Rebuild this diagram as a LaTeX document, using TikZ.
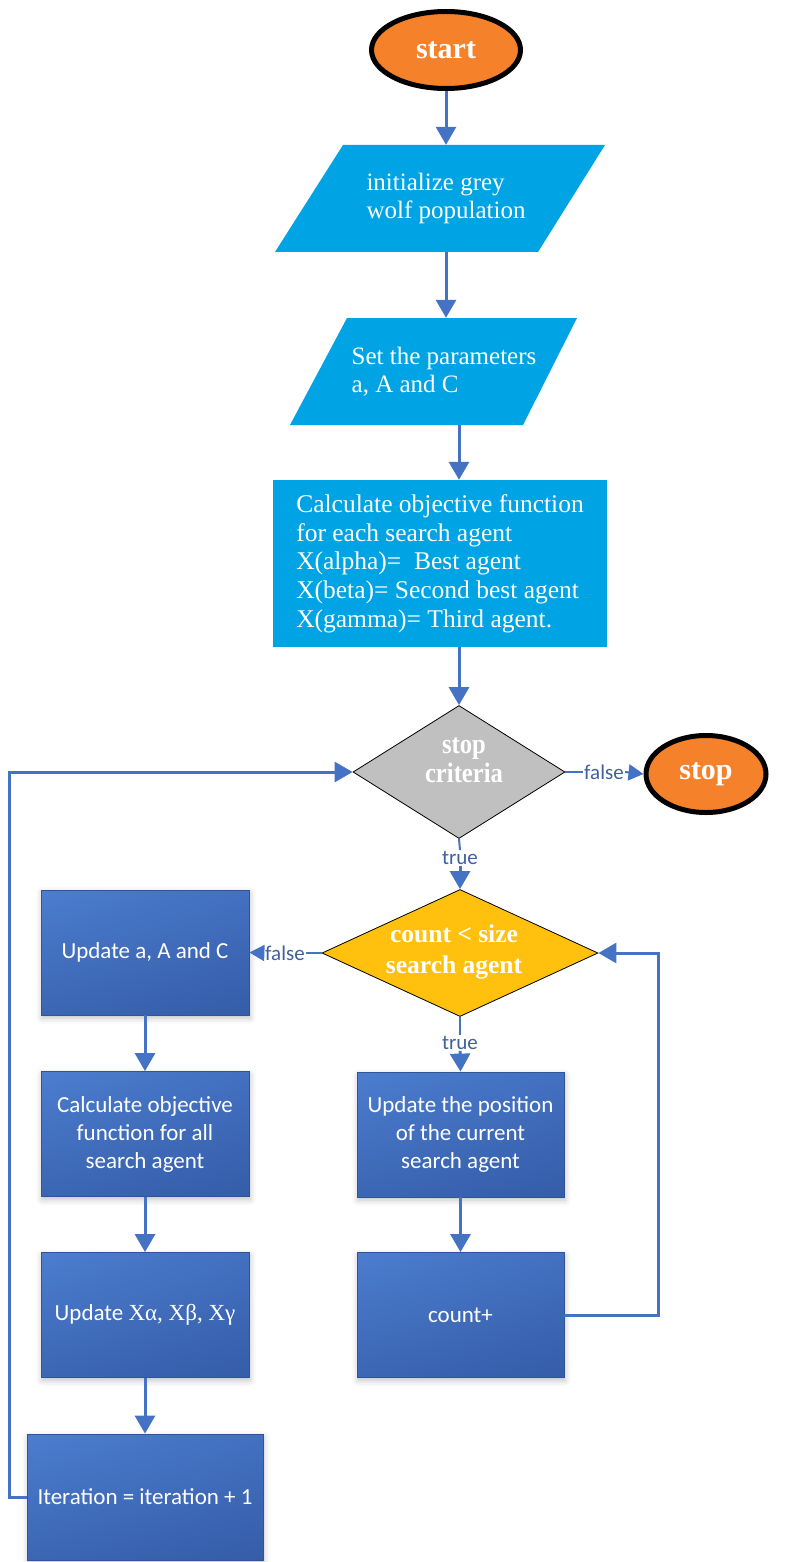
\documentclass[tikz,border=0pt]{standalone}
\usepackage{fontspec}
\setmainfont{Liberation Serif}
\newfontfamily\calib{Carlito}
\usetikzlibrary{shapes.geometric,arrows.meta,shadows.blur,shadings}

\definecolor{termorange}{HTML}{F5822A}
\definecolor{iocyan}{HTML}{00A3E4}
\definecolor{critgrey}{HTML}{C0C0C0}
\definecolor{countgold}{HTML}{FFC10E}
\definecolor{flowblue}{HTML}{4472C4}
\definecolor{lblblue}{HTML}{3F5F9F}
\definecolor{boxedge}{HTML}{2F5597}
\definecolor{boxul}{HTML}{4C7DCF}
\definecolor{boxur}{HTML}{4370C1}
\definecolor{boxll}{HTML}{3B66B3}
\definecolor{boxlr}{HTML}{355DA8}

\begin{document}
\begin{tikzpicture}[x=1pt,y=-1pt,
  conn/.style={draw=flowblue,line width=3pt,-{Triangle[length=18pt,width=20pt]}},
  sconn/.style={draw=flowblue,line width=2pt,-{Triangle[length=15pt,width=16pt]}},
  plainline/.style={draw=flowblue,line width=2pt},
  terminal/.style={ellipse,fill=termorange,draw=black,line width=5pt,
    minimum width=120pt,minimum height=77pt,inner sep=0pt,text=white,
    font=\fontsize{30}{32}\selectfont\bfseries},
  iotext/.style={align=left,text=white,inner sep=0pt,
    font=\fontsize{25}{28.5}\selectfont},
  decision/.style={diamond,draw=black,line width=0.8pt,inner sep=0pt},
  procbox/.style={rectangle,draw=boxedge,line width=0.8pt,
    upper left=boxul,upper right=boxur,lower left=boxll,lower right=boxlr,
    minimum width=208pt,minimum height=125pt,inner sep=0pt,
    text=white,align=center,font=\calib\fontsize{23}{28}\selectfont,
    blur shadow={shadow xshift=1pt,shadow yshift=-3pt,shadow blur radius=6pt,shadow opacity=25}},
  lbl/.style={text=lblblue,inner sep=1pt,font=\calib\fontsize{21}{24}\selectfont}
]
\useasboundingbox (0,0) rectangle (794,1562);

% start terminal
\node[terminal,minimum width=149pt] (start) at (446,50) {start};

% input parallelograms
\fill[iocyan] (343,145) -- (605,145) -- (538,252) -- (275,252) -- cycle;
\node[iotext,minimum height=107pt] (p1) at (446,198.5) {initialize grey\\wolf population};
\fill[iocyan] (347,318) -- (577,318) -- (523,425) -- (290,425) -- cycle;
\node[iotext,minimum height=107pt] (p2) at (444,371.5) {Set the parameters\\a, A and C};

% objective function box
\node[rectangle,fill=iocyan,minimum width=334pt,minimum height=167pt,inner sep=0pt,
  align=left,text=white,font=\fontsize{25.5}{28.7}\selectfont] (calc) at (440,563.5)
  {Calculate objective function\\for each search agent\\X(alpha)=\ \ Best agent\\X(beta)= Second best agent\\X(gamma)= Third agent.};

% stop criteria decision
\node[decision,fill=critgrey,minimum width=212pt,minimum height=133pt] (d1) at (459,772) {};
\node[text=white,inner sep=0pt,font=\fontsize{28}{29}\selectfont\bfseries] (d1t) at (464,762)
  {\scalebox{0.88}[1]{\begin{tabular}{@{}c@{}}stop\\criteria\end{tabular}}};

% stop terminal
\node[terminal] (stop) at (706,774) {stop};

% count decision
\node[decision,fill=countgold,minimum width=276pt,minimum height=127pt] (d2) at (460,953) {};
\node[text=white,inner sep=0pt,align=center,font=\fontsize{25.5}{31}\selectfont\bfseries] (d2t) at (454,952)
  {count < size\\search agent};

% left column
\node[procbox] (ua) at (145,952.5) {Update a, A and C};
\node[procbox] (co) at (145,1134) {Calculate objective\\function for all\\search agent};
\node[procbox] (ux) at (145,1315) {Update {\rmfamily Xα, Xβ, Xγ}};
\node[procbox,minimum width=236pt,minimum height=126pt] (it) at (145,1497) {Iteration = iteration + 1};

% right column
\node[procbox,minimum width=207pt] (upd) at (460.5,1134.5) {Update the position\\of the current\\search agent};
\node[procbox,minimum width=207pt] (cnt) at (460.5,1315) {count+};

% labels
\node[lbl] (f1) at (604,772) {false};
\node[lbl] (t1) at (460,858) {true};
\node[lbl] (f2) at (285,953) {false};
\node[lbl] (t2) at (460,1043) {true};

% main flow
\draw[conn] (start.south) -- (start.south |- p1.north);
\draw[conn] (p1.south) -- (p1.south |- p2.north);
\draw[conn] (d1 |- p2.south) -- (d1 |- calc.north);
\draw[conn] (d1 |- calc.south) -- (d1.north);

% stop criteria branches
\draw[plainline] (d1.east) -- (f1.west);
\draw[sconn] (f1.east) -- (stop.west);
\draw[plainline] (d1.south) -- (t1.north);
\draw[conn] (t1.south) -- (d2.north);

% count decision branches
\draw[plainline] (d2.west) -- (f2.east);
\draw[sconn] (f2.west) -- (ua.east);
\draw[plainline] (d2.south) -- (t2.north);
\draw[conn] (t2.south) -- (upd.north);

% left column flow
\draw[conn] (ua.south) -- (co.north);
\draw[conn] (co.south) -- (ux.north);
\draw[conn] (ux.south) -- (it.north);

% right column flow
\draw[conn] (upd.south) -- (cnt.north);

% loops
\draw[conn] (it.west) -- ++(-17,0) |- (d1.west);
\draw[conn] (cnt.east) -- ++(94,0) |- (d2.east);
\end{tikzpicture}
\end{document}
